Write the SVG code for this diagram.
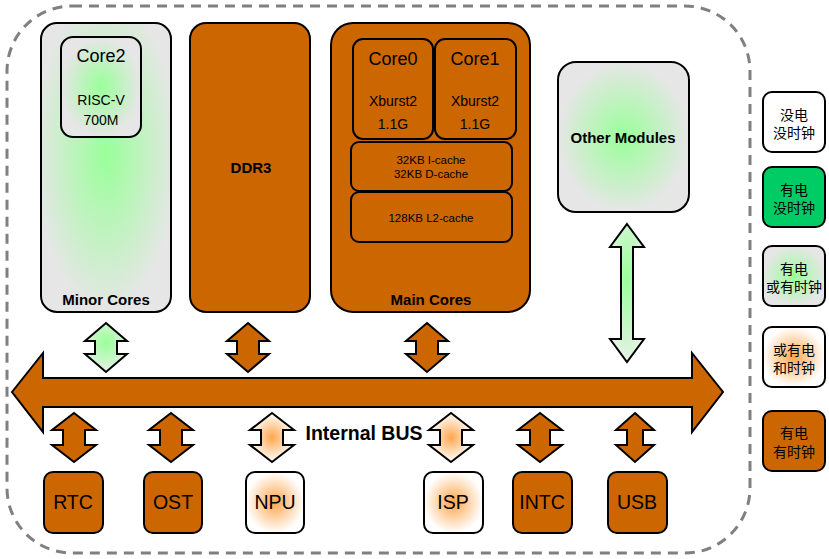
<svg xmlns="http://www.w3.org/2000/svg" width="829" height="559" viewBox="0 0 829 559">
<defs>
<radialGradient id="gGreen" cx="0.5" cy="0.5" r="0.5">
<stop offset="0" stop-color="#99ff99"/>
<stop offset="1" stop-color="#e6e6e6"/>
</radialGradient>
<radialGradient id="gGreenTall" cx="0.5" cy="0.45" r="0.55">
<stop offset="0" stop-color="#99ff99"/>
<stop offset="1" stop-color="#e6e6e6"/>
</radialGradient>
<radialGradient id="gGreenArrow" cx="0.5" cy="0.4" r="0.6">
<stop offset="0" stop-color="#99ff99"/>
<stop offset="1" stop-color="#e6f2e6"/>
</radialGradient>
<radialGradient id="gOrange" cx="0.5" cy="0.5" r="0.5">
<stop offset="0" stop-color="#ffa64d"/>
<stop offset="1" stop-color="#ffffff"/>
</radialGradient>
</defs>
<style>
.box{stroke:#000;stroke-width:2}
.org{fill:#cc6600}
.t{font-family:"Liberation Sans",Arial,sans-serif;fill:#000;text-anchor:middle}
.b{font-weight:bold}
.cjk{font-family:"Liberation Sans","Noto Sans CJK SC",sans-serif;font-size:14px;fill:#000;text-anchor:middle}
.arr{stroke:#000;stroke-width:2;stroke-linejoin:miter}
</style>
<rect x="7" y="6" width="743" height="547" rx="65" ry="65" fill="none" stroke="#808080" stroke-width="3" stroke-dasharray="10,7"/>

<g id="minor-cores">
<rect class="box" x="41" y="23" width="130" height="289" rx="16" fill="url(#gGreenTall)"/>
<text class="t b" x="106" y="305" font-size="15">Minor Cores</text>
</g>
<g id="core2">
<rect class="box" x="61" y="37" width="80" height="100" rx="12" fill="url(#gGreen)"/>
<text class="t" x="101" y="62" font-size="18">Core2</text>
<text class="t" x="101" y="105" font-size="14">RISC-V</text>
<text class="t" x="101" y="125" font-size="14">700M</text>
</g>
<g id="ddr3">
<rect class="box org" x="190" y="23" width="120" height="289" rx="16"/>
<text class="t b" x="251" y="173" font-size="15">DDR3</text>
</g>
<g id="main-cores">
<rect class="box org" x="331" y="23" width="199" height="289" rx="22"/>
<text class="t b" x="431" y="305" font-size="15">Main Cores</text>
</g>
<g id="core0">
<rect class="box org" x="353" y="39" width="80" height="100" rx="10"/>
<text class="t" x="393" y="65" font-size="18">Core0</text>
<text class="t" x="393" y="106" font-size="14">Xburst2</text>
<text class="t" x="393" y="129" font-size="14">1.1G</text>
</g>
<g id="core1">
<rect class="box org" x="435" y="39" width="81" height="100" rx="10"/>
<text class="t" x="475" y="65" font-size="18">Core1</text>
<text class="t" x="475" y="106" font-size="14">Xburst2</text>
<text class="t" x="475" y="129" font-size="14">1.1G</text>
</g>
<g id="l1-cache">
<rect class="box org" x="351" y="142" width="161" height="49" rx="8"/>
<text class="t" x="431" y="164" font-size="11.5">32KB I-cache</text>
<text class="t" x="431" y="178" font-size="11.5">32KB D-cache</text>
</g>
<g id="l2-cache">
<rect class="box org" x="351" y="192" width="161" height="50" rx="8"/>
<text class="t" x="431" y="222" font-size="11.5">128KB L2-cache</text>
</g>
<g id="other-modules">
<rect class="box" x="558" y="62" width="131" height="150" rx="18" fill="url(#gGreen)"/>
<text class="t b" x="623" y="143" font-size="15">Other Modules</text>
</g>

<g id="rtc"><rect class="box org" x="44" y="472" width="59" height="61" rx="9"/><text class="t" x="73" y="509" font-size="19.5">RTC</text></g>
<g id="ost"><rect class="box org" x="144" y="472" width="58" height="61" rx="9"/><text class="t" x="173" y="509" font-size="19.5">OST</text></g>
<g id="npu"><rect class="box" x="246" y="472" width="58" height="61" rx="9" fill="url(#gOrange)"/><text class="t" x="275" y="509" font-size="19.5">NPU</text></g>
<g id="isp"><rect class="box" x="424" y="472" width="59" height="61" rx="9" fill="url(#gOrange)"/><text class="t" x="453" y="509" font-size="19.5">ISP</text></g>
<g id="intc"><rect class="box org" x="513" y="472" width="59" height="61" rx="9"/><text class="t" x="542" y="509" font-size="19.5">INTC</text></g>
<g id="usb"><rect class="box org" x="608" y="472" width="59" height="61" rx="9"/><text class="t" x="637" y="509" font-size="19.5">USB</text></g>

<g id="legend">
<g id="legend-1"><rect class="box" x="763" y="92" width="62" height="60" rx="9" fill="#fff"/><text class="cjk" x="794" y="120">没电</text><text class="cjk" x="794" y="138">没时钟</text></g>
<g id="legend-2"><rect class="box" x="763" y="167" width="62" height="60" rx="9" fill="#00cc66"/><text class="cjk" x="794" y="195">有电</text><text class="cjk" x="794" y="213">没时钟</text></g>
<g id="legend-3"><rect class="box" x="763" y="246" width="62" height="60" rx="9" fill="url(#gGreen)"/><text class="cjk" x="794" y="274">有电</text><text class="cjk" x="794" y="292">或有时钟</text></g>
<g id="legend-4"><rect class="box" x="763" y="327" width="62" height="60" rx="9" fill="url(#gOrange)"/><text class="cjk" x="794" y="355">或有电</text><text class="cjk" x="794" y="373">和时钟</text></g>
<g id="legend-5"><rect class="box org" x="763" y="411" width="62" height="60" rx="9"/><text class="cjk" x="794" y="438">有电</text><text class="cjk" x="794" y="457">有时钟</text></g>
</g>

<g id="connectors">
<path id="bus" class="arr org" d="M12,392 L43,353 L43,378 L692,378 L692,353 L723,392 L692,432 L692,407 L43,407 L43,432 Z"/>
<path class="arr" fill="url(#gGreenArrow)" d="M106,323 L127,341 L117,341 L117,354 L127,354 L106,372 L85,354 L95,354 L95,341 L85,341 Z"/>
<path class="arr org" d="M248,323 L269,341 L259,341 L259,354 L269,354 L248,372 L227,354 L237,354 L237,341 L227,341 Z"/>
<path class="arr org" d="M427,323 L448,341 L438,341 L438,354 L448,354 L427,372 L406,354 L416,354 L416,341 L406,341 Z"/>
<path class="arr" fill="url(#gGreenArrow)" d="M627,224 L644,247 L633,247 L633,339 L644,339 L627,362 L610,339 L621,339 L621,247 L610,247 Z"/>
<path class="arr org" d="M74,413 L96,430 L85,430 L85,445 L96,445 L74,462 L52,445 L63,445 L63,430 L52,430 Z"/>
<path class="arr org" d="M171,413 L193,430 L182,430 L182,445 L193,445 L171,462 L149,445 L160,445 L160,430 L149,430 Z"/>
<path class="arr" fill="url(#gOrange)" d="M272,413 L294,430 L283,430 L283,445 L294,445 L272,462 L250,445 L261,445 L261,430 L250,430 Z"/>
<path class="arr" fill="url(#gOrange)" d="M451,413 L473,430 L462,430 L462,445 L473,445 L451,462 L429,445 L440,445 L440,430 L429,430 Z"/>
<path class="arr org" d="M540,413 L562,430 L550,430 L550,445 L562,445 L540,462 L518,445 L530,445 L530,430 L518,430 Z"/>
<path class="arr org" d="M635,413 L654,430 L643,430 L643,445 L654,445 L635,462 L616,445 L627,445 L627,430 L616,430 Z"/>
</g>
<text class="t b" x="364" y="440" font-size="19.5">Internal BUS</text>
</svg>
